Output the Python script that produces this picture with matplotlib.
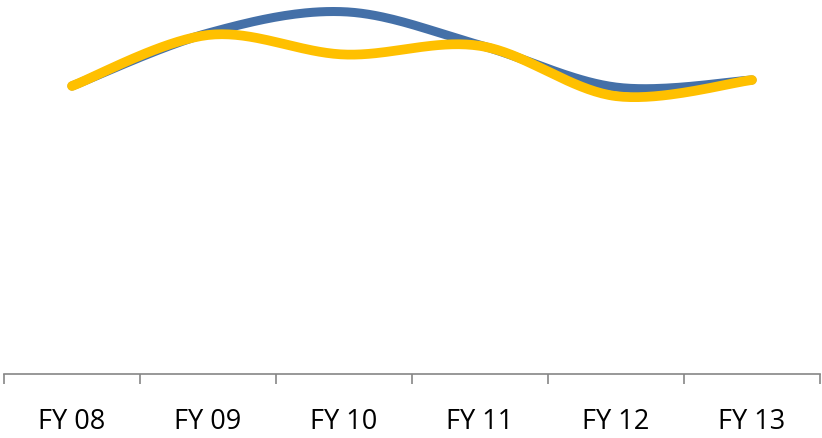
import numpy as np
import matplotlib.pyplot as plt

categories = ["FY 08", "FY 09", "FY 10", "FY 11", "FY 12", "FY 13"]
series_blue = [76.8, 90.9, 96.6, 87.7, 76.5, 78.4]
series_gold = [76.8, 90.4, 85.2, 87.5, 74.1, 78.4]


def smooth(y, n=40):
    # Bezier segments through each point, control points from neighbour slopes
    y = np.asarray(y, dtype=float)
    x = np.arange(len(y), dtype=float)
    xs, ys = [], []
    for i in range(len(y) - 1):
        x0, x1 = x[i], x[i + 1]
        y0, y1 = y[i], y[i + 1]
        ym = y[i - 1] if i > 0 else y0
        yp = y[i + 2] if i + 2 < len(y) else y1
        xm = x[i - 1] if i > 0 else x0
        xp = x[i + 2] if i + 2 < len(y) else x1
        c1 = (x0 + (x1 - xm) / 6, y0 + (y1 - ym) / 6)
        c2 = (x1 - (xp - x0) / 6, y1 - (yp - y0) / 6)
        t = np.linspace(0, 1, n)
        bx = (1 - t) ** 3 * x0 + 3 * (1 - t) ** 2 * t * c1[0] + 3 * (1 - t) * t ** 2 * c2[0] + t ** 3 * x1
        by = (1 - t) ** 3 * y0 + 3 * (1 - t) ** 2 * t * c1[1] + 3 * (1 - t) * t ** 2 * c2[1] + t ** 3 * y1
        xs.append(bx)
        ys.append(by)
    return np.concatenate(xs), np.concatenate(ys)


fig = plt.figure(figsize=(8.22, 4.39), dpi=100)
ax = fig.add_axes([4 / 822, 64 / 439, 816 / 822, 375 / 439])

for vals, color, lw in [(series_blue, "#4470a8", 6.5), (series_gold, "#ffc000", 7.0)]:
    sx, sy = smooth(vals)
    ax.plot(sx, sy, color=color, lw=lw, solid_capstyle="round", solid_joinstyle="round")

ax.set_xlim(-0.5, len(categories) - 0.5)
ax.set_ylim(0, 100)

for side in ["left", "right", "top"]:
    ax.spines[side].set_visible(False)
ax.spines["bottom"].set_color("#868686")
ax.spines["bottom"].set_linewidth(1.2)
ax.set_yticks([])

ax.set_xticks(np.arange(-0.5, len(categories)))
ax.set_xticklabels([])
ax.tick_params(axis="x", which="major", length=7, width=1.2, color="#868686", direction="out")
ax.set_xticks(np.arange(len(categories)), minor=True)
ax.set_xticklabels(categories, minor=True, fontsize=19.5, family=["Open Sans", "DejaVu Sans"], color="#000000")
ax.tick_params(axis="x", which="minor", length=0, pad=24)

fig.savefig("out.png", dpi=100)
